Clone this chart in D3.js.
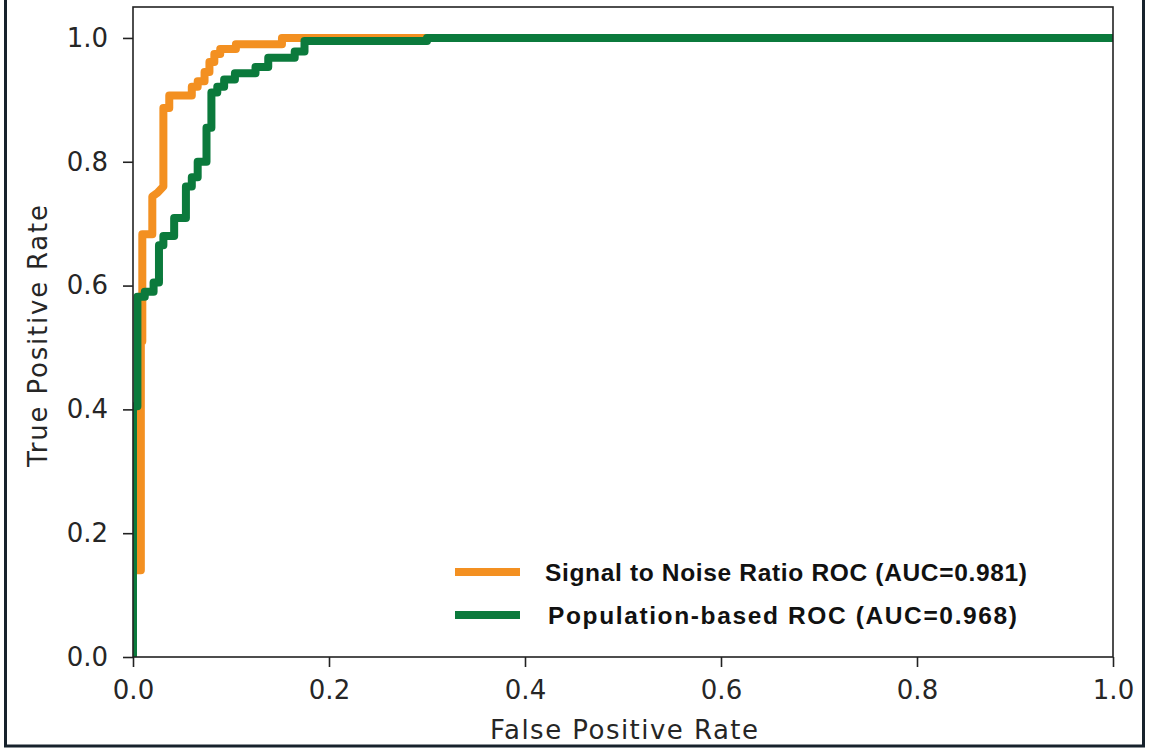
<!DOCTYPE html>
<html>
<head>
<meta charset="utf-8">
<script src="https://cdn.jsdelivr.net/npm/d3@7"></script>
<style>
  html, body { margin: 0; padding: 0; background: #fff; }
  svg { display: block; }
</style>
</head>
<body>
<div id="graph"></div>
<script>
  // ROC points (false positive rate / true positive rate)
  const snrFpr = [0, 0, 0.008, 0.008, 0.0095, 0.0095, 0.0197, 0.0197, 0.025, 0.031, 0.031, 0.037, 0.037, 0.06, 0.06, 0.066, 0.066, 0.073, 0.073, 0.078, 0.078, 0.083, 0.083, 0.089, 0.089, 0.105, 0.105, 0.152, 0.152, 1];
  const snrTpr = [0, 0.14, 0.14, 0.51, 0.51, 0.683, 0.683, 0.744, 0.75, 0.76, 0.887, 0.887, 0.907, 0.907, 0.921, 0.921, 0.93, 0.93, 0.945, 0.945, 0.961, 0.961, 0.974, 0.974, 0.982, 0.982, 0.99, 0.99, 1, 1];

  const popFpr = [0, 0, 0.0045, 0.0045, 0.012, 0.012, 0.021, 0.021, 0.0265, 0.0265, 0.031, 0.031, 0.042, 0.042, 0.054, 0.054, 0.06, 0.06, 0.066, 0.066, 0.075, 0.075, 0.08, 0.08, 0.086, 0.086, 0.093, 0.093, 0.104, 0.104, 0.125, 0.125, 0.138, 0.138, 0.165, 0.165, 0.175, 0.175, 0.30, 0.30, 1];
  const popTpr = [0, 0.405, 0.405, 0.582, 0.582, 0.59, 0.59, 0.605, 0.605, 0.665, 0.665, 0.68, 0.68, 0.709, 0.709, 0.76, 0.76, 0.775, 0.775, 0.80, 0.80, 0.855, 0.855, 0.912, 0.912, 0.921, 0.921, 0.933, 0.933, 0.943, 0.943, 0.953, 0.953, 0.968, 0.968, 0.978, 0.978, 0.995, 0.995, 1, 1];

  const tickValues = [0, 0.2, 0.4, 0.6, 0.8, 1.0];
  const seriesNames = ['Signal to Noise Ratio ROC (AUC=0.981)', 'Population-based ROC (AUC=0.968)'];
  const seriesColors = ['#f39021', '#0b7a3c'];

  const width = 1151, height = 751;
  const plotLeft = 133, plotRight = 1113, plotTop = 7, plotBottom = 657;

  const svg = d3.select('#graph').append('svg')
    .attr('width', width)
    .attr('height', height);

  // outer frame of the screenshot
  svg.append('rect')
    .attr('x', 5.5).attr('y', -5)
    .attr('width', 1138).attr('height', 751)
    .attr('fill', 'none')
    .attr('stroke', '#17222c')
    .attr('stroke-width', 3);

  const x = d3.scaleLinear().domain([0, 1]).range([plotLeft, plotRight]);
  const y = d3.scaleLinear().domain([0, 1.05]).range([plotBottom, plotTop]);

  svg.append('clipPath').attr('id', 'clip')
    .append('rect')
    .attr('x', plotLeft).attr('y', plotTop)
    .attr('width', plotRight - plotLeft).attr('height', plotBottom - plotTop);

  const line = d3.line().x(d => x(d[0])).y(d => y(d[1]));
  const series = [
    d3.zip(snrFpr, snrTpr),
    d3.zip(popFpr, popTpr)
  ];

  svg.append('g')
      .attr('clip-path', 'url(#clip)')
    .selectAll('path')
    .data(series)
    .join('path')
      .attr('d', line)
      .attr('fill', 'none')
      .attr('stroke', (d, i) => seriesColors[i])
      .attr('stroke-width', 8)
      .attr('stroke-linejoin', 'round');

  const fmt = d3.format('.1f');

  const xAxis = svg.append('g')
    .attr('transform', `translate(0,${plotBottom})`)
    .call(d3.axisBottom(x).tickValues(tickValues).tickFormat(fmt).tickSize(10).tickPadding(14));

  const yAxis = svg.append('g')
    .attr('transform', `translate(${plotLeft},0)`)
    .call(d3.axisLeft(y).tickValues(tickValues).tickFormat(fmt).tickSize(10).tickPadding(15));

  [xAxis, yAxis].forEach(g => {
    g.select('.domain').remove();
    g.selectAll('line').attr('stroke', '#222').attr('stroke-width', 1.6);
    g.selectAll('text')
      .attr('font-family', 'DejaVu Sans')
      .attr('font-size', 26)
      .attr('fill', '#262626');
  });

  // plot frame
  svg.append('rect')
    .attr('x', plotLeft).attr('y', plotTop)
    .attr('width', plotRight - plotLeft).attr('height', plotBottom - plotTop)
    .attr('fill', 'none')
    .attr('stroke', '#222')
    .attr('stroke-width', 1.6);

  svg.append('text')
    .attr('x', (490 + 758) / 2)
    .attr('y', 739)
    .attr('text-anchor', 'middle')
    .attr('font-family', 'DejaVu Sans')
    .attr('font-size', 26)
    .attr('fill', '#262626')
    .attr('textLength', 268)
    .attr('lengthAdjust', 'spacing')
    .text('False Positive Rate');

  svg.append('text')
    .attr('transform', 'translate(47,336) rotate(-90)')
    .attr('text-anchor', 'middle')
    .attr('font-family', 'DejaVu Sans')
    .attr('font-size', 26)
    .attr('fill', '#262626')
    .attr('textLength', 262)
    .attr('lengthAdjust', 'spacing')
    .text('True Positive Rate');

  // legend (no box)
  const legend = svg.append('g')
    .selectAll('g')
    .data(seriesNames)
    .join('g')
      .attr('transform', (d, i) => `translate(455,${572 + i * 43})`);

  legend.append('line')
    .attr('x1', 0).attr('x2', 65)
    .attr('stroke', (d, i) => seriesColors[i])
    .attr('stroke-width', 8);

  legend.append('text')
    .attr('x', (d, i) => i === 0 ? 90 : 93)
    .attr('dy', '0.35em')
    .attr('font-family', 'Liberation Sans, Arial, sans-serif')
    .attr('font-weight', 'bold')
    .attr('font-size', 24.5)
    .attr('fill', '#111')
    .attr('textLength', (d, i) => i === 0 ? 482 : 469)
    .attr('lengthAdjust', 'spacing')
    .text(d => d);
</script>
</body>
</html>
